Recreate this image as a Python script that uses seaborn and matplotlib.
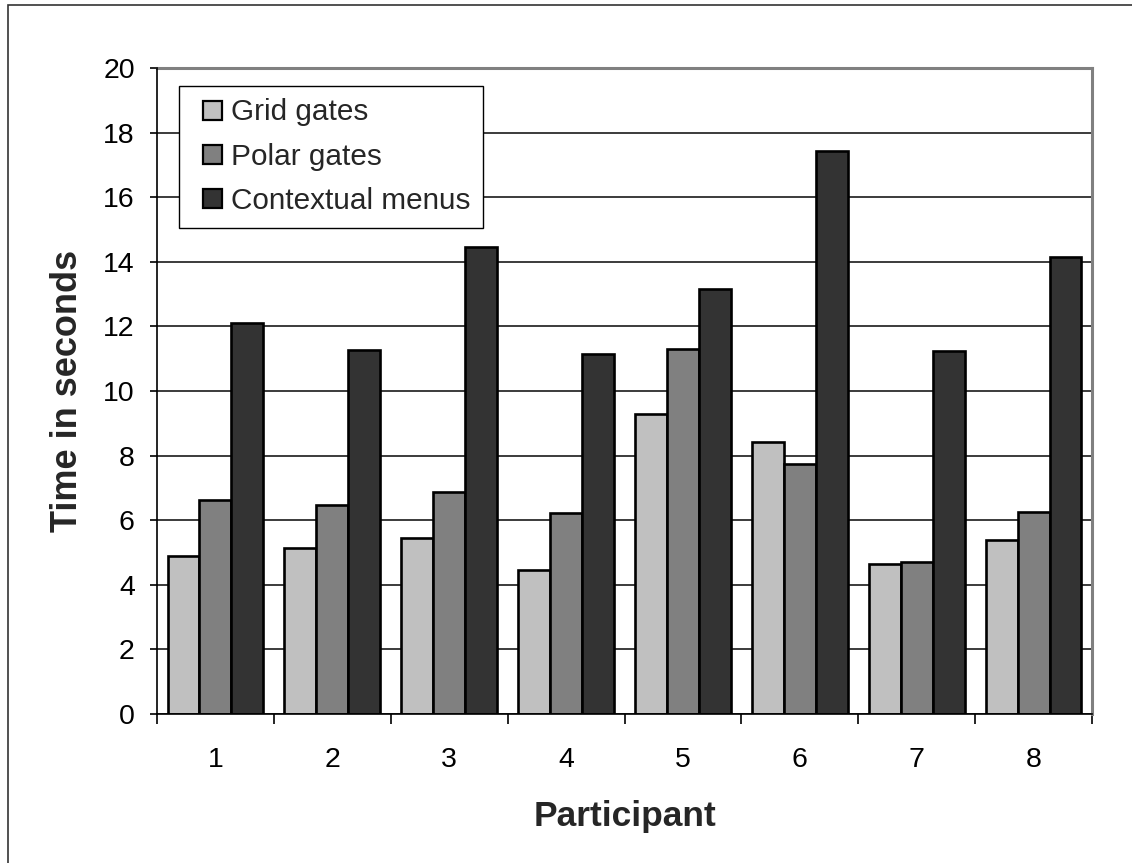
import matplotlib
matplotlib.use("Agg")
import matplotlib.pyplot as plt
from matplotlib.patches import Rectangle
from matplotlib.legend_handler import HandlerPatch
import numpy as np
import pandas as pd
import seaborn as sns

participants = ["1", "2", "3", "4", "5", "6", "7", "8"]
techniques = ["Grid gates", "Polar gates", "Contextual menus"]
grid_gates = [4.88, 5.15, 5.46, 4.46, 9.29, 8.41, 4.65, 5.39]
polar_gates = [6.63, 6.46, 6.87, 6.23, 11.31, 7.74, 4.71, 6.25]
contextual_menus = [12.11, 11.27, 14.45, 11.16, 13.17, 17.44, 11.24, 14.14]
y_ticks = [0, 2, 4, 6, 8, 10, 12, 14, 16, 18, 20]

colors = ["#c0c0c0", "#808080", "#333333"]

df = pd.DataFrame({
    "Participant": participants * 3,
    "Technique": [techniques[0]] * 8 + [techniques[1]] * 8 + [techniques[2]] * 8,
    "Time": grid_gates + polar_gates + contextual_menus,
})

sns.set_theme(style="white")
plt.rcParams["font.family"] = ["Liberation Sans", "DejaVu Sans"]

fig = plt.figure(figsize=(11.32, 8.63), dpi=100)
ax = fig.add_axes([157 / 1132, 1 - 714 / 863, (1092 - 157) / 1132, (714 - 68) / 863])

sns.barplot(data=df, x="Participant", y="Time", hue="Technique",
            hue_order=techniques, order=participants, palette=colors,
            width=0.82, gap=0, edgecolor="black", linewidth=1.9,
            saturation=1, ax=ax, legend=True, zorder=3)

ax.set_ylim(0, 20)
ax.set_xlim(-0.5, len(participants) - 0.5)
ax.set_yticks(y_ticks)
ax.set_yticklabels([str(t) for t in y_ticks])
ax.yaxis.grid(True, color="#1a1a1a", linewidth=1.2, zorder=0)
ax.xaxis.grid(False)
ax.set_axisbelow(True)

# x ticks: labels at group centres, tick marks on group boundaries
ax.set_xticks(np.arange(len(participants)))
ax.set_xticks(np.arange(len(participants) + 1) - 0.5, minor=True)
ax.tick_params(axis="x", which="major", length=0, pad=24, labelsize=20.5, colors="black")
ax.tick_params(axis="x", which="minor", direction="out", length=7, width=1.2,
               color="black", bottom=True)
ax.tick_params(axis="y", which="major", direction="out", length=5, width=1.2,
               color="black", left=True, pad=11, labelsize=20.5, labelcolor="black")

for side in ["top", "right"]:
    ax.spines[side].set_color("#808080")
    ax.spines[side].set_linewidth(2.2)
for side in ["left", "bottom"]:
    ax.spines[side].set_color("black")
    ax.spines[side].set_linewidth(1.2)
    ax.spines[side].set_zorder(4)

ax.set_xlabel("Participant", fontsize=25.5, fontweight="bold", labelpad=19)
ax.set_ylabel("Time in seconds", fontsize=26, fontweight="bold", labelpad=13)


def square_key(legend, orig_handle, xdescent, ydescent, width, height, fontsize):
    """Small square swatch pushed to the right end of the handle box."""
    s = 0.64 * fontsize
    return Rectangle((-xdescent + width - s, -ydescent + (height - s) / 2), s, s)


handles, labels = ax.get_legend_handles_labels()
leg = ax.legend(handles, labels, loc="upper left",
                bbox_to_anchor=((179 - 157) / 935, (714 - 86) / 646),
                borderaxespad=0, fontsize=21.4, frameon=True, fancybox=False,
                edgecolor="black", framealpha=1, handlelength=1.03,
                handleheight=0.64, handletextpad=0.3, labelspacing=0.55,
                borderpad=0.42,
                handler_map={Rectangle: HandlerPatch(patch_func=square_key)})
leg.get_frame().set_linewidth(1.0)
leg.set_zorder(5)
for h in leg.legend_handles:
    h.set_edgecolor("black")
    h.set_linewidth(1.6)

# outer chart border
fig.patches.append(Rectangle((8 / 1132, -0.01), 1.02, 1 - 5 / 863 + 0.01,
                             transform=fig.transFigure, fill=False,
                             edgecolor="#333333", linewidth=1.2))

fig.savefig("out.png", dpi=100, facecolor="white")
